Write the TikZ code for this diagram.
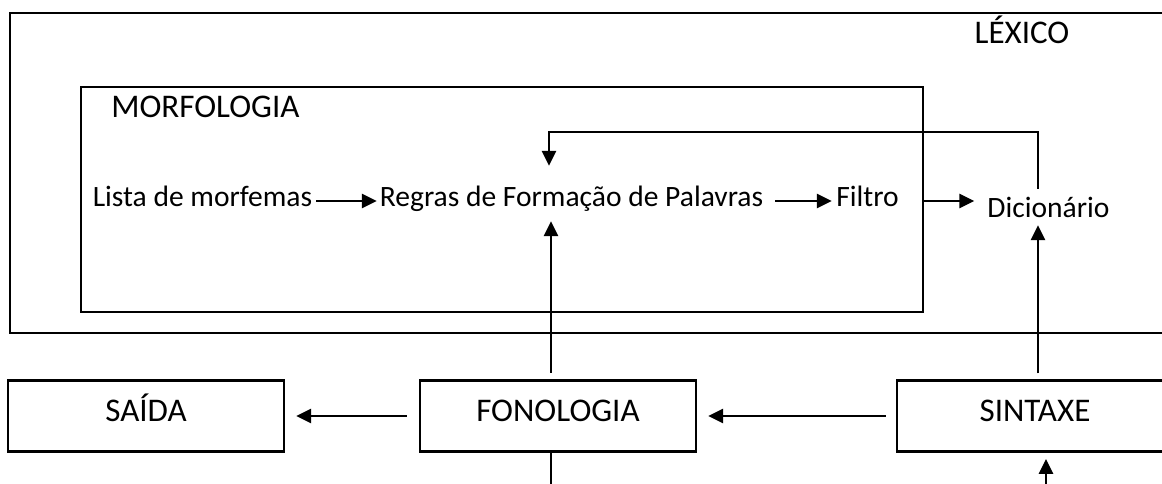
\documentclass[tikz,border=0pt]{standalone}
\usepackage{fontspec}
\setmainfont{Carlito}
\usepackage{tikz}
\usetikzlibrary{positioning, arrows.meta}

\newcommand{\boxfont}{\fontsize{23.5}{28}\selectfont}
\newcommand{\rowfont}{\fontsize{21}{25}\selectfont}

\begin{document}
\begin{tikzpicture}[
                    x=0.025cm, y=-0.025cm,
                    every node/.style={font=\rowfont},
                    moldura/.style={line width=1.9pt},
                    linha/.style={line width=0.9pt},
                    seta/.style={line width=0.9pt, -{Triangle[length=0.37cm, width=0.36cm]}},
                    caixa/.style={draw, line width=1.7pt, minimum width=6.9cm, minimum height=1.775cm,
                                  text height=0.275cm, text depth=0pt, font=\boxfont},
                    termo/.style={inner sep=0pt, minimum height=1cm, text height=0.3cm, text depth=0pt},
                    titulo/.style={inner sep=0pt, font=\boxfont}
                ]
                  \useasboundingbox (0,0) rectangle (1162,484);

                  \draw[moldura] (10,13) rectangle (1200,333);
                  \node[titulo, anchor=base] (lexico) at (1022,44) {LÉXICO};

                  \node[draw, moldura, minimum width=21.05cm, minimum height=5.625cm] (morf) at (502,199.5) {};
                  \node[titulo, anchor=base west] (morflabel) at (111,118) {MORFOLOGIA};

                  \node[termo, minimum width=5.625cm] (lista) at (202.5,201) {Lista de morfemas};
                  \node[termo, minimum width=9.625cm] (regras) at (571.5,201) {Regras de Formação de Palavras};
                  \node[termo, minimum width=1.575cm] (filtro) at (867.5,201) {Filtro};
                  \node[termo, minimum width=2.925cm, minimum height=0.9cm, text height=0.5cm] (dic) at (1048.5,207) {Dicionário};

                  \node[caixa] (saida) at (146,416) {SAÍDA};
                  \node[caixa] (fono) at (558,416) {FONOLOGIA};
                  \node[caixa] (sint) at (1035,416) {SINTAXE};

                  \coordinate (retd) at (1038,132);
                  \coordinate (rete) at (549,132);
                  \coordinate (subida) at (551,300);
                  \coordinate (fonosai) at (551,500);
                  \coordinate (sintent) at (1046,500);

                  \draw[seta, shorten <=0.025cm, shorten >=0.05cm] (lista) -- (regras);
                  \draw[seta, shorten <=0.275cm, shorten >=0.1cm] (regras) -- (filtro);
                  \draw[seta, shorten >=0.325cm] (filtro -| morf.east) -- (filtro -| dic.west);
                  \draw[seta, shorten >=0.375cm] (dic.north -| retd) -- (retd) -- (rete) -- (regras.north -| rete);

                  \draw[seta, shorten <=0.25cm, shorten >=0.275cm] (sint) -- (fono);
                  \draw[seta, shorten <=0.3cm, shorten >=0.275cm] (fono) -- (saida);
                  \draw[seta, shorten <=0.16cm] (fono.north -| subida) -- (regras.south -| subida);
                  \draw[seta, shorten <=0.15cm] (sint.north -| retd) -- (dic.south -| retd);
                  \draw[linha] (fono.south -| fonosai) -- (fonosai);
                  \draw[seta, shorten >=0.16cm] (sintent) -- (sint.south -| sintent);
                \end{tikzpicture}
\end{document}
